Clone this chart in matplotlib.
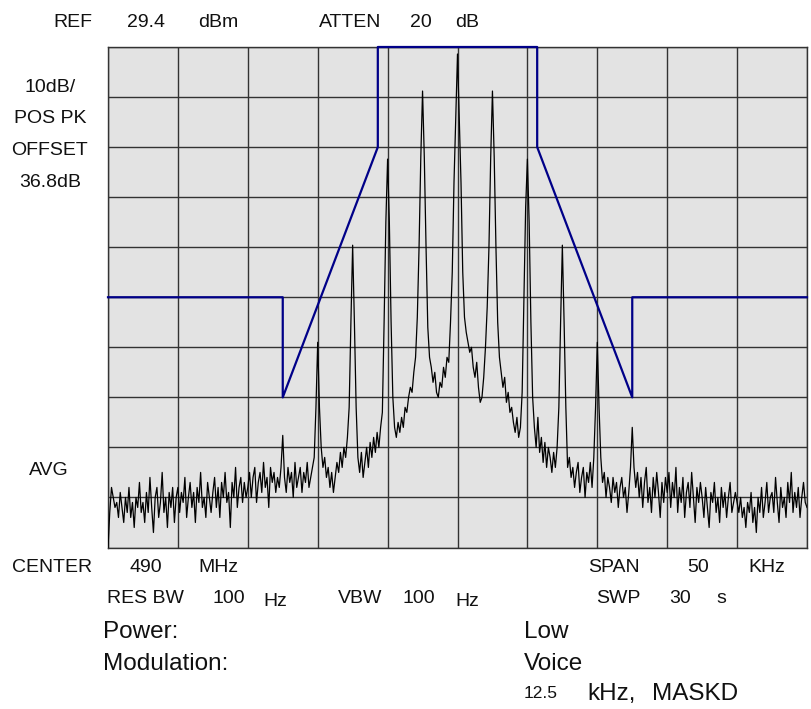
import numpy as np
import matplotlib
matplotlib.use('Agg')
import matplotlib.pyplot as plt

plt.rcParams['font.family'] = ['Liberation Sans', 'DejaVu Sans']

# sweep: 401 points over 50 kHz span, levels in dB relative to REF (10 dB/div)
span_khz = 50
freq_khz = np.linspace(-span_khz / 2, span_khz / 2, 401)

trace_db = [
    # -25.0 .. -22.625
    -100, -93, -88, -90, -92, -91, -94, -89, -92, -95, -90, -93, -88, -94, -91, -96, -90, -92, -87, -93,
    # -22.5 .. -20.125
    -91, -95, -89, -93, -86, -92, -97, -90, -88, -94, -91, -85, -93, -90, -96, -89, -92, -88, -95, -90,
    # -20.0 .. -17.625
    -88, -93, -89, -91, -86, -94, -90, -87, -92, -89, -95, -88, -91, -85, -92, -90, -94, -87, -90, -93,
    # -17.5 .. -15.125
    -89, -86, -92, -88, -94, -87, -90, -85, -91, -89, -96, -87, -90, -84, -92, -88, -86, -91, -87, -90,
    # -15.0 .. -12.625
    -88, -85, -90, -86, -84, -91, -87, -85, -89, -83, -88, -86, -92, -84, -87, -85, -89, -86, -88, -84,
    # -12.5 .. -10.125
    -77.6, -86, -89, -84, -87, -85, -90, -83, -88, -86, -84, -89, -85, -87, -83, -88, -86, -84, -82, -72,
    # -10.0 .. -7.625
    -59, -72, -80, -84, -82, -86, -84, -88, -85, -89, -86, -83, -85, -81, -84, -80, -82, -78, -72, -55,
    # -7.5 .. -5.125
    -39.6, -55, -72, -82, -85, -81, -86, -83, -80, -84, -79, -82, -78, -81, -77, -80, -76, -73, -55, -35,
    # -5.0 .. -2.625
    -22.4, -35, -55, -70, -76, -78, -75, -77, -74, -76, -72, -73, -70, -68, -69, -65, -62, -54, -40, -22,
    # -2.5 .. -0.125
    -8.8, -22, -40, -56, -62, -64, -67, -65, -69, -70, -67, -68, -64, -66, -62, -63, -55, -45, -27, -14,
    # 0.0 .. 2.375
    -1.4, -14, -27, -45, -54, -57, -59, -61, -60, -64, -66, -63, -68, -71, -70, -66, -60, -52, -40, -22,
    # 2.5 .. 4.875
    -8.8, -22, -40, -55, -62, -65, -68, -66, -71, -69, -73, -72, -75, -77, -74, -78, -76, -69, -50, -32,
    # 5.0 .. 7.375
    -22.4, -35, -55, -70, -76, -80, -74, -81, -78, -83, -79, -84, -80, -82, -85, -81, -84, -80, -72, -55,
    # 7.5 .. 9.875
    -39.6, -55, -72, -84, -82, -86, -84, -88, -85, -83, -89, -86, -84, -90, -85, -87, -83, -88, -82, -72,
    # 10.0 .. 12.375
    -59, -72, -82, -87, -85, -90, -86, -88, -91, -86, -89, -87, -92, -88, -86, -90, -88, -93, -89, -84,
    # 12.5 .. 14.875
    -76, -84, -88, -85, -90, -86, -92, -87, -84, -91, -88, -93, -86, -90, -85, -89, -94, -87, -91, -86,
    # 15.0 .. 17.375
    -89, -85, -92, -87, -90, -84, -93, -88, -91, -86, -94, -89, -87, -92, -85, -90, -95, -88, -91, -87,
    # 17.5 .. 19.875
    -90, -94, -88, -92, -96, -89, -91, -87, -93, -90, -95, -88, -92, -89, -94, -90, -87, -93, -91, -89,
    # 20.0 .. 22.375
    -91, -93, -90, -94, -92, -96, -91, -93, -89, -95, -92, -97, -90, -93, -88, -94, -91, -87, -93, -90,
    # 22.5 .. 24.875
    -89, -93, -86, -91, -95, -88, -92, -90, -94, -87, -91, -85, -93, -89, -92, -88, -94, -90, -87, -91,
    # 25.0
    -92,
]

# emission mask
mask_khz = [-25, -12.5, -12.5, -5.7, -5.7, 5.7, 5.7, 12.5, 12.5, 25]
mask_db = [-50, -50, -70, -20, 0, 0, -20, -70, -50, -50]

W, H = 811, 709
fig = plt.figure(figsize=(W / 100, H / 100), dpi=100)
ax = fig.add_axes([108 / W, 1 - 547.5 / H, 699 / W, 500.5 / H])
ax.set_facecolor('#e3e3e3')

ax.plot(freq_khz, trace_db, color='black', lw=0.9, zorder=3)
ax.plot(mask_khz, mask_db, color='#000088', lw=1.6, zorder=4, clip_on=False)

ax.set_xlim(-25, 25)
ax.set_ylim(-100, 0)
ax.set_xticks(np.arange(-25, 26, 5))
ax.set_yticks(np.arange(-100, 1, 10))
ax.tick_params(length=0, labelbottom=False, labelleft=False)
ax.grid(True, color='#333333', lw=1.0, zorder=1)
ax.set_axisbelow(True)
for s in ax.spines.values():
    s.set_color('#333333')
    s.set_linewidth(1.0)


def label(x, y, s, size=14, ha='left'):
    # x, y in pixels from top-left, y is the baseline
    fig.text(x / W, 1 - y / H, s, fontsize=size, ha=ha, va='baseline', color='#111111')


# header
label(53, 27, 'REF')
label(127, 27, '29.4')
label(198, 27, 'dBm')
label(319, 27, 'ATTEN')
label(410, 27, '20')
label(455, 27, 'dB')

# left side
label(50, 92, '10dB/', ha='center')
label(50, 123, 'POS PK', ha='center')
label(50, 155, 'OFFSET', ha='center')
label(50, 187, '36.8dB', ha='center')
label(49, 475, 'AVG', ha='center')

# bottom rows
label(12, 572, 'CENTER')
label(130, 572, '490')
label(198, 572, 'MHz')
label(588, 572, 'SPAN')
label(687, 572, '50')
label(748, 572, 'KHz')

label(107, 603, 'RES BW')
label(212, 603, '100')
label(263, 606, 'Hz')
label(338, 603, 'VBW')
label(402, 603, '100')
label(455, 606, 'Hz')
label(596, 603, 'SWP')
label(669, 603, '30')
label(716, 603, 's')

label(103, 638, 'Power:', size=17.5)
label(103, 670, 'Modulation:', size=17.5)
label(524, 638, 'Low', size=17.5)
label(524, 670, 'Voice', size=17.5)
label(524, 698, '12.5', size=12.5)
label(587, 700, 'kHz,', size=17.5)
label(652, 700, 'MASKD', size=17.5)

fig.savefig('out.png', dpi=100)
